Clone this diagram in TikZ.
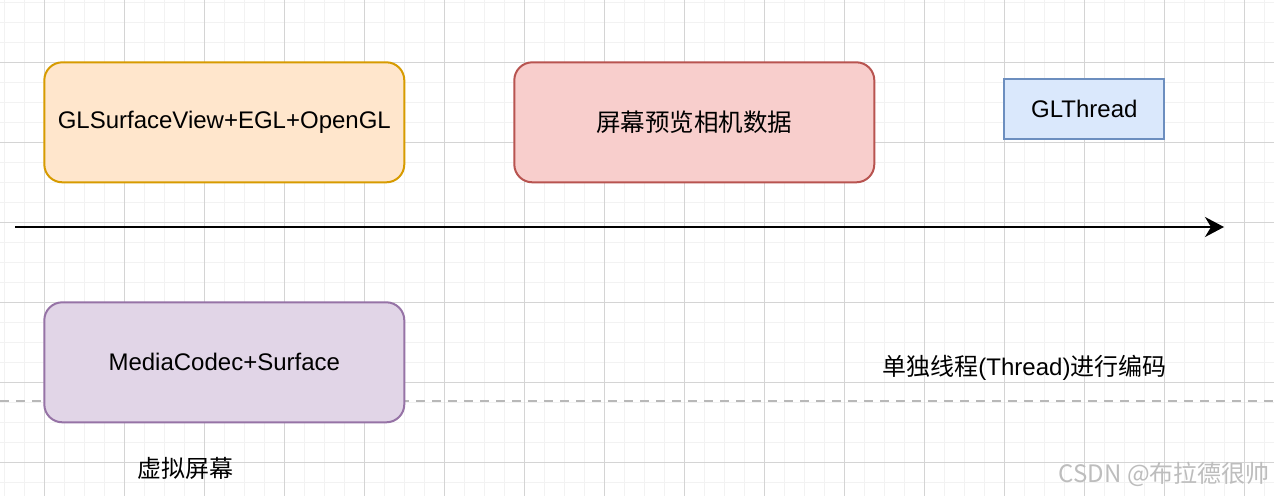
\documentclass[tikz,border=0pt]{standalone}
\usepackage{fontspec}
\setmainfont{Liberation Sans}
\newfontfamily\cjk{Noto Sans CJK SC}
\usetikzlibrary{arrows.meta}
\definecolor{orgfill}{HTML}{FFE6CC}
\definecolor{orgline}{HTML}{D79B00}
\definecolor{redfill}{HTML}{F8CECC}
\definecolor{redline}{HTML}{B85450}
\definecolor{bluefill}{HTML}{DAE8FC}
\definecolor{blueline}{HTML}{6C8EBF}
\definecolor{purpfill}{HTML}{E1D5E7}
\definecolor{purpline}{HTML}{9673A6}
\definecolor{minorgridc}{HTML}{F2F2F2}
\definecolor{majorgridc}{HTML}{D4D4D4}
\definecolor{dashc}{HTML}{B8B8B8}
\definecolor{wmark}{HTML}{BDBDBD}
\tikzset{
  minorgrid/.style={draw=minorgridc, line width=1pt},
  majorgrid/.style={draw=majorgridc, line width=1pt},
  boxbase/.style={line width=2pt, minimum width=360pt, minimum height=120pt, inner sep=0pt,
    rounded corners=18pt, font=\fontsize{24}{29}\selectfont},
  orgbox/.style={boxbase, draw=orgline, fill=orgfill},
  redbox/.style={boxbase, draw=redline, fill=redfill, font=\cjk\fontsize{24.5}{29}\selectfont},
  purpbox/.style={boxbase, draw=purpline, fill=purpfill},
  bluebox/.style={line width=2pt, draw=blueline, fill=bluefill, minimum width=160pt,
    minimum height=60pt, inner sep=0pt, font=\fontsize{24}{29}\selectfont},
  arrowline/.style={line width=2pt, -{Stealth[length=19pt, width=20pt, inset=6pt]}},
  dashline/.style={draw=dashc, line width=2pt, dash pattern=on 9pt off 7pt},
  lbl/.style={inner sep=0pt, font=\fontsize{24}{29}\selectfont},
}
\begin{document}
\begin{tikzpicture}[x=1pt,y=-1pt]
\useasboundingbox (0,0) rectangle (1274,496);
\fill[white] (0,0) rectangle (1274,496);
% grid
\foreach \i in {0,...,63} \draw[minorgrid] ({4.3+20*\i},0) -- ++(0,496);
\foreach \j in {0,...,24} \draw[minorgrid] (0,{2.3+20*\j}) -- ++(1274,0);
\foreach \i in {0,...,15} \draw[majorgrid] ({44.3+80*\i},0) -- ++(0,496);
\foreach \j in {0,...,5} \draw[majorgrid] (0,{62.3+80*\j}) -- ++(1274,0);
% dashed separator
\coordinate (dl) at (0,401);
\coordinate (dr) at (1274,401);
\draw[dashline] (dl) -- (dr);
% boxes
\node[orgbox] (gl) at (224.3,122.3) {GLSurfaceView+EGL+OpenGL};
\node[redbox] (pre) at (694.3,122.3) {屏幕预览相机数据};
\node[bluebox] (glt) at (1084.3,109) {GLThread};
\node[purpbox] (mc) at (224.3,362.3) {MediaCodec+Surface};
% timeline arrow
\coordinate (as) at (15,227);
\coordinate (ae) at (1224,227);
\draw[arrowline] (as) -- (ae);
% labels
\node[lbl] (vs) at (185,468) {\cjk 虚拟屏幕};
\node[lbl] (enc) at (1024.5,368) {{\cjk 单独线程}(Thread){\cjk 进行编码}};
\node[lbl, anchor=east, text=wmark, font=\cjk\fontsize{24}{28}\selectfont] (wm) at (1270,474) {CSDN @布拉德很帅};
\end{tikzpicture}
\end{document}
